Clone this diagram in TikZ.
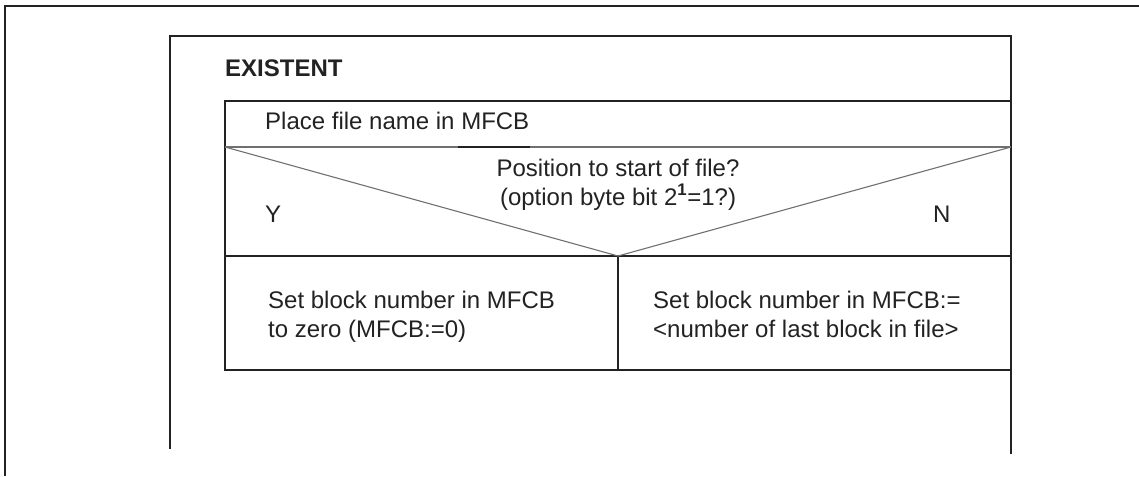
\documentclass[tikz,border=0pt]{standalone}
\usepackage{fontspec}
\setmainfont{Liberation Sans}
\usetikzlibrary{positioning}
\definecolor{frameink}{HTML}{222222}
\definecolor{splitgray}{HTML}{707070}

\begin{document}
\begin{tikzpicture}[
  x=1pt,
  y=-1pt,
  every node/.style={font=\fontsize{24}{28.5}\selectfont, text=frameink,
                     inner sep=0pt},
  frame/.style={frameink, line width=1.8pt},
  rowline/.style={frameink, line width=1.6pt},
  split/.style={splitgray, line width=1.1pt},
  cell/.style={anchor=base west, align=left}
]
  \useasboundingbox (0,0) rectangle (1139,476);

  % ---- page edge and block frame ----
  \draw[frame] (5,476) -- (5,6) -- (1139,6);
  \draw[frame] (170,449) -- (170,36) -- (1011,36) -- (1011,454);

  % ---- corners of the structogram ----
  \coordinate (topL)  at (225,101);
  \coordinate (topR)  at (1011,101);
  \coordinate (askL)  at (225,147);
  \coordinate (askR)  at (1011,147);
  \coordinate (tip)   at (618,256);
  \coordinate (caseL) at (225,256);
  \coordinate (caseR) at (1011,256);
  \coordinate (botL)  at (225,370);
  \coordinate (botM)  at (618,370);
  \coordinate (botR)  at (1011,370);

  % ---- table outline and rows ----
  \draw[rowline] (topR) -- (topL) -- (botL) -- (botR);
  \draw[split] (askL) -- (askR);
  \draw[rowline] (458,147) -- (530,147);
  \draw[rowline] (caseL) -- (caseR);
  \draw[rowline] (tip) -- (botM);

  % ---- the decision wedge ----
  \draw[split] (askL) -- (tip) -- (askR);

  % ---- texts (base of a two-line node is its last line) ----
  \node[anchor=base west, font=\fontsize{24}{28.5}\selectfont\bfseries]
    (title) at (225,77) {EXISTENT};
  \node[anchor=base west] (place) at (265,129) {Place file name in MFCB};
  \node[anchor=base, align=center] (ask) at (618,205)
    {Position to start of file?\\(option byte bit 2\textsuperscript{\textbf{1}}=1?)};
  \node[anchor=base west] (yes) at (265,222) {Y};
  \node[anchor=base west] (no)  at (933,222) {N};
  \node[cell] (zero) at (268,337) {Set block number in MFCB\\to zero (MFCB:=0)};
  \node[cell] (last) at (653,337)
    {Set block number in MFCB:=\\<number of last block in file>};
\end{tikzpicture}
\end{document}
